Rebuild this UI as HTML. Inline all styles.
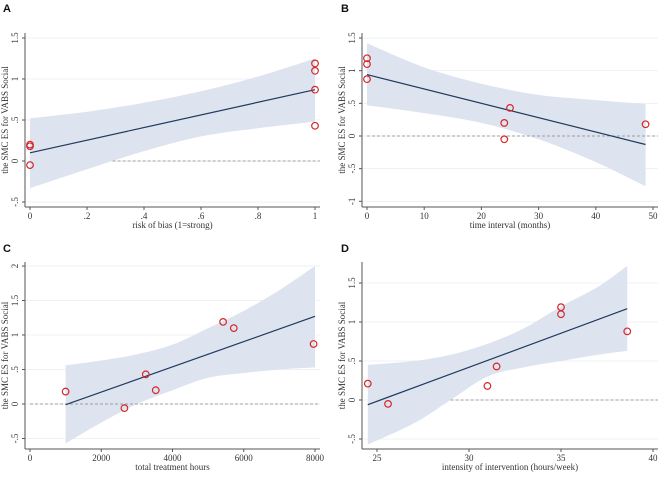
<!DOCTYPE html>
<html><head><meta charset="utf-8"><style>
body{margin:0;background:#fff;}
svg text{font-family:"Liberation Serif",serif;fill:#333;}
</style></head><body>
<svg id="c" width="669" height="485"></svg>
<script>
// Panel A
const aBandX=[0,.2,.4,.6,.8,1];
const aUpper=[0.52,0.6,0.71,0.85,1.03,1.25];
const aLower=[-0.33,-0.1,0.12,0.3,0.4,0.48];
const aFitX=[0,1];const aFitY=[0.1,0.87];
const aPtX=[0,0,0,1,1,1,1];const aPtY=[0.2,0.18,-0.05,1.19,1.1,0.87,0.43];
const aXTicks=[0,.2,.4,.6,.8,1];const aXLabels=["0",".2",".4",".6",".8","1"];
const aYTicks=[-0.5,0,0.5,1,1.5];const aYLabels=["-.5","0",".5","1","1.5"];
// Panel B
const bBandX=[0,10,20,30,40,48.7];
const bUpper=[1.42,1.05,0.8,0.63,0.55,0.49];
const bLower=[0.47,0.35,0.2,-0.05,-0.4,-0.77];
const bFitX=[0,48.7];const bFitY=[0.94,-0.13];
const bPtX=[0,0,0,24,24,25,48.7];const bPtY=[1.19,1.1,0.87,0.2,-0.05,0.43,0.18];
const bXTicks=[0,10,20,30,40,50];const bXLabels=["0","10","20","30","40","50"];
const bYTicks=[-1,-0.5,0,0.5,1,1.5];const bYLabels=["-1","-.5","0",".5","1","1.5"];
// Panel C
const cBandX=[1000,2000,3000,4000,5000,6000,7000,8000];
const cUpper=[0.56,0.63,0.72,0.86,1.1,1.35,1.65,2.0];
const cLower=[-0.57,-0.27,0.0,0.2,0.38,0.45,0.5,0.53];
const cFitX=[1000,8000];const cFitY=[-0.01,1.27];
const cPtX=[1000,2650,3250,3530,5420,5720,7960];const cPtY=[0.18,-0.06,0.43,0.2,1.19,1.1,0.87];
const cXTicks=[0,2000,4000,6000,8000];const cXLabels=["0","2000","4000","6000","8000"];
const cYTicks=[-0.5,0,0.5,1,1.5,2];const cYLabels=["-.5","0",".5","1","1.5","2"];
// Panel D
const dBandX=[24.5,27,29,31,33,35,37,38.6];
const dUpper=[0.45,0.5,0.58,0.72,0.92,1.2,1.45,1.72];
const dLower=[-0.57,-0.3,0.0,0.3,0.42,0.5,0.58,0.63];
const dFitX=[24.5,38.6];const dFitY=[-0.06,1.17];
const dPtX=[24.5,25.6,31,31.5,35,35,38.6];const dPtY=[0.21,-0.05,0.18,0.43,1.19,1.1,0.88];
const dXTicks=[25,30,35,40];const dXLabels=["25","30","35","40"];
const dYTicks=[-0.5,0,0.5,1,1.5];const dYLabels=["-.5","0",".5","1","1.5"];

const NS="http://www.w3.org/2000/svg";
const svg=document.getElementById('c');
function mk(t,a,p){const e=document.createElementNS(NS,t);for(const k in a)e.setAttribute(k,a[k]);(p||svg).appendChild(e);return e;}
function smooth(pts,first){
  let d=first?'M'+pts[0][0]+','+pts[0][1]:'L'+pts[0][0]+','+pts[0][1];
  for(let i=0;i<pts.length-1;i++){
    const p0=pts[Math.max(0,i-1)],p1=pts[i],p2=pts[i+1],p3=pts[Math.min(pts.length-1,i+2)];
    const c1=[p1[0]+(p2[0]-p0[0])/6,p1[1]+(p2[1]-p0[1])/6];
    const c2=[p2[0]-(p3[0]-p1[0])/6,p2[1]-(p3[1]-p1[1])/6];
    d+='C'+c1[0]+','+c1[1]+' '+c2[0]+','+c2[1]+' '+p2[0]+','+p2[1];
  }
  return d;
}

function panel(o){
  const g=mk('g',{});
  
  
  const sx=v=>o.x0px+(v-o.x0)*(o.x1px-o.x0px)/(o.x1-o.x0);
  const sy=v=>o.y0px+(v-o.y0)*(o.y1px-o.y0px)/(o.y1-o.y0);
  o.yTicks.forEach(t=>{const l=mk('line',{x1:o.axL+1,x2:o.right,y1:sy(t),y2:sy(t),stroke:'#eef1f5','stroke-width':1},g);
    });
  const up=o.bx.map((x,i)=>[sx(x),sy(o.up[i])]);
  const lo=o.bx.map((x,i)=>[sx(x),sy(o.lo[i])]).reverse();
  const b=mk('path',{d:smooth(up,true)+smooth(lo,false)+'Z',fill:'#dde3ef'},g);
  
  const z=mk('line',{x1:sx(o.dashFrom),x2:o.right,y1:sy(0),y2:sy(0),stroke:'#888','stroke-width':0.8,'stroke-dasharray':'3,2'},g);
  
  const f=mk('line',{x1:sx(o.fx[0]),y1:sy(o.fy[0]),x2:sx(o.fx[1]),y2:sy(o.fy[1]),stroke:'#1f3a5f','stroke-width':1.2},g);
  
  o.px.forEach((x,i)=>{const c=mk('circle',{cx:sx(x),cy:sy(o.py[i]),r:3.3,fill:'none',stroke:'#d62728','stroke-width':1.2},g);
    });
  const ya=mk('line',{x1:o.axL,x2:o.axL,y1:o.top,y2:o.axB,stroke:'#555','stroke-width':1},g);
  
  const xa=mk('line',{x1:o.axL,x2:o.right,y1:o.axB,y2:o.axB,stroke:'#555','stroke-width':1},g);
  
  o.yTicks.forEach((t,i)=>{mk('line',{x1:o.axL-3,x2:o.axL,y1:sy(t),y2:sy(t),stroke:'#555'},g);
    const tx=mk('text',{x:o.axL-7,y:sy(t),'font-size':9,'text-anchor':'middle',transform:`rotate(-90 ${o.axL-7} ${sy(t)})`},g);
    tx.textContent=o.yLabels[i];});
  o.xTicks.forEach((t,i)=>{mk('line',{x1:sx(t),x2:sx(t),y1:o.axB,y2:o.axB+3,stroke:'#555'},g);
    const tx=mk('text',{x:sx(t),y:o.axB+12,'font-size':9,'text-anchor':'middle'},g);
    tx.textContent=o.xLabels[i];});
  const xt=mk('text',{x:(o.axL+o.right)/2,y:o.axB+21,'font-size':9,'text-anchor':'middle'},g);
  xt.textContent=o.xTitle;
  const ym=(o.top+o.axB)/2;
  const yt=mk('text',{x:o.axL-17,y:ym,'font-size':9,'text-anchor':'middle',transform:`rotate(-90 ${o.axL-17} ${ym})`},g);
  yt.textContent='the SMC ES for VABS Social';
  const pl=mk('text',{x:o.lx,y:o.ly,'font-size':11,'font-weight':'bold',style:'font-family:"Liberation Sans",sans-serif;fill:#111'},g);
  pl.textContent=o.id;
}
panel({id:'A',lx:3,ly:12,x0:0,x1:1,x0px:30,x1px:315,y0:0,y1:1.5,y0px:161,y1px:38,axL:25,axB:207,top:33,right:320,
  bx:aBandX,up:aUpper,lo:aLower,fx:aFitX,fy:aFitY,px:aPtX,py:aPtY,xTicks:aXTicks,xLabels:aXLabels,yTicks:aYTicks,yLabels:aYLabels,dashFrom:0.29,xTitle:'risk of bias (1=strong)'});
panel({id:'B',lx:341,ly:12,x0:0,x1:50,x0px:367,x1px:653,y0:0,y1:1.5,y0px:136,y1px:38,axL:362,axB:207,top:33,right:658,
  bx:bBandX,up:bUpper,lo:bLower,fx:bFitX,fy:bFitY,px:bPtX,py:bPtY,xTicks:bXTicks,xLabels:bXLabels,yTicks:bYTicks,yLabels:bYLabels,dashFrom:0,xTitle:'time interval (months)'});
panel({id:'C',lx:3,ly:252,x0:0,x1:8000,x0px:30,x1px:315,y0:0,y1:2,y0px:404,y1px:266,axL:25,axB:449,top:262,right:320,
  bx:cBandX,up:cUpper,lo:cLower,fx:cFitX,fy:cFitY,px:cPtX,py:cPtY,xTicks:cXTicks,xLabels:cXLabels,yTicks:cYTicks,yLabels:cYLabels,dashFrom:0,xTitle:'total treatment hours'});
panel({id:'D',lx:341,ly:252,x0:25,x1:40,x0px:377,x1px:653,y0:0,y1:1.5,y0px:400,y1px:283,axL:362,axB:449,top:262,right:658,
  bx:dBandX,up:dUpper,lo:dLower,fx:dFitX,fy:dFitY,px:dPtX,py:dPtY,xTicks:dXTicks,xLabels:dXLabels,yTicks:dYTicks,yLabels:dYLabels,dashFrom:29,xTitle:'intensity of intervention (hours/week)'});
</script>
</body></html>
